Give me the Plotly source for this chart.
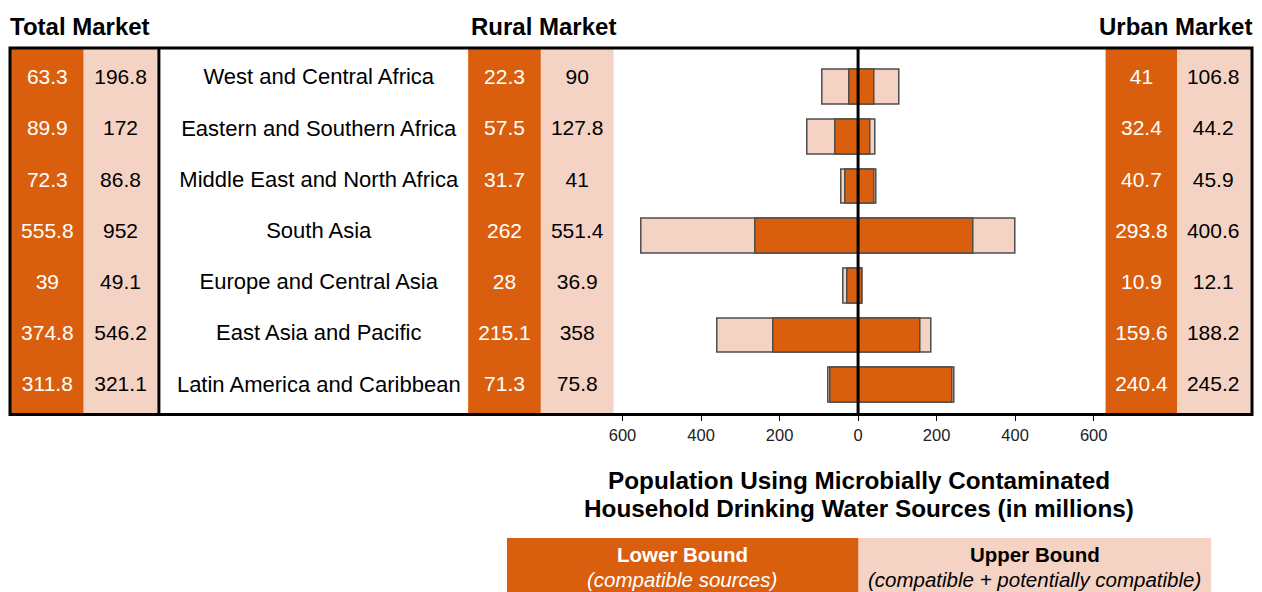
import plotly.graph_objects as go

# Data (population in millions)
regions = [
    "West and Central Africa",
    "Eastern and Southern Africa",
    "Middle East and North Africa",
    "South Asia",
    "Europe and Central Asia",
    "East Asia and Pacific",
    "Latin America and Caribbean",
]
total_lower = [63.3, 89.9, 72.3, 555.8, 39, 374.8, 311.8]
total_upper = [196.8, 172, 86.8, 952, 49.1, 546.2, 321.1]
rural_lower = [22.3, 57.5, 31.7, 262, 28, 215.1, 71.3]
rural_upper = [90, 127.8, 41, 551.4, 36.9, 358, 75.8]
urban_lower = [41, 32.4, 40.7, 293.8, 10.9, 159.6, 240.4]
urban_upper = [106.8, 44.2, 45.9, 400.6, 12.1, 188.2, 245.2]
tick_vals = [-600, -400, -200, 0, 200, 400, 600]
tick_text = ["600", "400", "200", "0", "200", "400", "600"]

# the page puts the figure 8px in from the corner and only ~1254px of width shows,
# so window-pixel positions are squeezed a little horizontally
OFF = 8
W, H = 1246, 592 - OFF
K = (1253 - 9) / (1260 - 11)
ORANGE = "#D95F0E"
LIGHT = "#F5D3C4"
OUTLINE = "#4d4d4d"
FONT = "Liberation Sans, Arial, sans-serif"


def sx(x):
    # window pixel (reference) -> pixel inside figure
    return 1 + (x - 11) * K


def px(x):
    return sx(x) / W


def py(y):
    return 1 - (y - OFF) / H


rows = list(range(len(regions)))
fig = go.Figure()

# -- butterfly bars: rural to the left, urban to the right
bar_kw = dict(orientation="h", width=0.7, hoverinfo="skip", showlegend=False,
              marker_line_color=OUTLINE, marker_line_width=1.5)
fig.add_trace(go.Bar(x=[-v for v in rural_upper], y=rows, marker_color=LIGHT, **bar_kw))
fig.add_trace(go.Bar(x=urban_upper, y=rows, marker_color=LIGHT, **bar_kw))
fig.add_trace(go.Bar(x=[-v for v in rural_lower], y=rows, marker_color=ORANGE, **bar_kw))
fig.add_trace(go.Bar(x=urban_lower, y=rows, marker_color=ORANGE, **bar_kw))


# -- table text (x2 axis runs in reference pixels)
def fmt(v):
    return f"{v:g}"


columns = [
    (49.5, [fmt(v) for v in total_lower], "white", 21),
    (123, [fmt(v) for v in total_upper], "black", 21),
    (322, regions, "black", 22),
    (508.5, [fmt(v) for v in rural_lower], "white", 21),
    (581.5, [fmt(v) for v in rural_upper], "black", 21),
    (1148, [fmt(v) for v in urban_lower], "white", 21),
    (1220, [fmt(v) for v in urban_upper], "black", 21),
]
for xc, texts, col, size in columns:
    fig.add_trace(go.Scatter(
        x=[xc] * len(texts), y=rows, text=texts, mode="text",
        textposition="middle center",
        textfont=dict(family=FONT, size=size, color=col),
        xaxis="x2", yaxis="y2", hoverinfo="skip", showlegend=False,
    ))

shapes = []
top, bottom = 48, 414.5
# column backgrounds
for x0, x1, c in [(12, 86, ORANGE), (86, 160, LIGHT), (472, 545, ORANGE),
                  (545, 618, LIGHT), (1112, 1184, ORANGE), (1184, 1258, LIGHT)]:
    shapes.append(dict(type="rect", xref="paper", yref="paper", layer="below",
                       x0=px(x0), x1=px(x1), y0=py(bottom), y1=py(top),
                       fillcolor=c, line_width=0))
# outer frame and separator
shapes.append(dict(type="rect", xref="paper", yref="paper",
                   x0=px(12), x1=px(1259), y0=py(bottom), y1=py(top),
                   line=dict(color="black", width=3)))
shapes.append(dict(type="line", xref="paper", yref="paper",
                   x0=px(161.5), x1=px(161.5), y0=py(bottom), y1=py(top),
                   line=dict(color="black", width=3)))
# zero line
shapes.append(dict(type="line", xref="x", yref="paper", x0=0, x1=0,
                   y0=py(bottom), y1=py(top), line=dict(color="black", width=3)))
# legend boxes
shapes.append(dict(type="rect", xref="paper", yref="paper", x0=px(511), x1=px(864),
                   y0=0, y1=py(538), fillcolor=ORANGE, line_width=0))
shapes.append(dict(type="rect", xref="paper", yref="paper", x0=px(864), x1=px(1218),
                   y0=0, y1=py(538), fillcolor=LIGHT, line_width=0))

annotations = []


def note(text, x, y, size=20, color="black", xanchor="center"):
    annotations.append(dict(text=text, x=px(x), y=py(y), xref="paper", yref="paper",
                            xanchor=xanchor, yanchor="middle", showarrow=False,
                            font=dict(family=FONT, size=size, color=color)))


note("<b>Total Market</b>", 10, 26, size=24, xanchor="left")
note("<b>Rural Market</b>", 548, 26, size=24)
note("<b>Urban Market</b>", 1261, 26, size=24, xanchor="right")
note("<b>Population Using Microbially Contaminated</b>", 864, 480, size=24.3)
note("<b>Household Drinking Water Sources (in millions)</b>", 864, 508, size=24.3)
note("<b>Lower Bound</b>", 687, 554, size=20.5, color="white")
note("<i>(compatible sources)</i>", 687, 579, size=20.5, color="white")
note("<b>Upper Bound</b>", 1041, 554, size=20.5)
note("<i>(compatible + potentially compatible)</i>", 1041, 579, size=20.5)

fig.update_layout(
    width=W, height=H,
    margin=dict(l=0, r=0, t=0, b=0, autoexpand=False),
    paper_bgcolor="white", plot_bgcolor="rgba(0,0,0,0)",
    barmode="overlay", bargap=0,
    font=dict(family=FONT, color="black"),
    shapes=shapes, annotations=annotations,
    xaxis=dict(domain=[px(627), px(1100)], range=[-600, 600],
               anchor="free", position=py(415),
               tickvals=tick_vals, ticktext=tick_text,
               ticks="outside", ticklen=5, tickcolor="black",
               showgrid=False, zeroline=False, showline=False,
               tickfont=dict(family=FONT, size=16.5, color="#222")),
    yaxis=dict(domain=[py(410), py(62.7)], range=[6.5, -0.5], visible=False),
    xaxis2=dict(domain=[0, 1], range=[11 - 1 / K, 11 + (W - 1) / K],
                visible=False, anchor="y2"),
    yaxis2=dict(domain=[py(411.6), py(53.4)], range=[6.5, -0.5], visible=False,
                anchor="x2"),
)

fig.write_html("out.html")
